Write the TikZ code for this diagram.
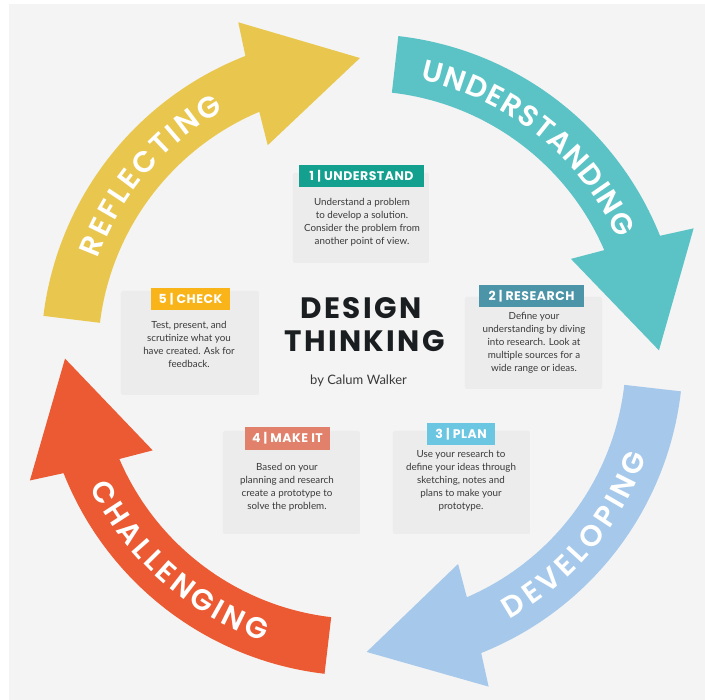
\documentclass[tikz,border=0pt]{standalone}
\usepackage{fontspec}
\usetikzlibrary{decorations.text}
\newfontfamily\headfont{Poppins}
\IfFontExistsTF{Poppins SemiBold}
  {\newfontfamily\arrowfont{Poppins SemiBold}}
  {\newfontfamily\arrowfont{Poppins}[UprightFont=*-Bold]}
\newfontfamily\titlefont{Poppins}[LetterSpace=8]
\newfontfamily\barfont{Poppins}[LetterSpace=4]
\newfontfamily\bodyfont{Lato}
\definecolor{panel}{HTML}{F4F4F4}
\definecolor{cardgray}{HTML}{ECECEC}
\definecolor{yelA}{HTML}{E9C74E}
\definecolor{cyaA}{HTML}{5BC3C5}
\definecolor{bluA}{HTML}{A6C9EB}
\definecolor{redA}{HTML}{EB5A33}
\definecolor{labA}{HTML}{14A08F}
\definecolor{labB}{HTML}{4C94A8}
\definecolor{labC}{HTML}{6BC6E2}
\definecolor{labD}{HTML}{E2816B}
\definecolor{labE}{HTML}{F8B419}
\definecolor{titlec}{HTML}{1A1E20}
\definecolor{bodyc}{HTML}{3A3A3A}
\tikzset{
  arrowtxt/.style={decorate, decoration={text along path, text align={fit to path}, text color=white}},
  card/.style={fill=cardgray, rounded corners=2pt, inner sep=0pt},
  bar/.style={inner sep=0pt, text=white, font=\barfont\bfseries\fontsize{12.5}{14}\selectfont, minimum height=22},
  body/.style={inner sep=0pt, align=center, text=bodyc, font=\bodyfont\fontsize{9.8}{13}\selectfont},
}
\begin{document}
\begin{tikzpicture}[x=1pt,y=1pt]
\useasboundingbox (-362,-345) rectangle (343,355);
\fill[white] (-362,-345) rectangle (343,355);
\fill[panel] (-353,-345) rectangle (343,351);
% ring arrows
\foreach \T/\col in {173/yelA, 83.5/cyaA, -6.5/bluA, -96.7/redA}{
  \fill[\col] (\T:321) arc[start angle=\T, end angle=\T-61.7, radius=321]
    -- ({\T-62.6}:355) -- ({\T-82.6}:297) -- ({\T-58.8}:230) -- ({\T-60.1}:264)
    arc[start angle=\T-60.1, end angle=\T, radius=264] -- cycle;
}
\path[arrowtxt, decoration={text={|\arrowfont\fontsize{29.5}{30}\selectfont|REFLECTING}}]
  (160:281) arc[start angle=160, end angle=119.5, radius=281];
\path[arrowtxt, decoration={text={|\arrowfont\fontsize{29.5}{30}\selectfont|UNDERSTANDING}}]
  (78:281) arc[start angle=78, end angle=24.5, radius=281];
\path[arrowtxt, decoration={text={|\arrowfont\fontsize{29.5}{30}\selectfont|DEVELOPING}}]
  (-60.8:302.5) arc[start angle=-60.8, end angle=-19.5, radius=302.5];
\path[arrowtxt, decoration={text={|\arrowfont\fontsize{29.5}{30}\selectfont|CHALLENGING}}]
  (206:302.5) arc[start angle=206, end angle=251, radius=302.5];
\begin{scope}[shift={(-362,355)}, y=-1pt]
  % cards
  \node[card, minimum width=136, minimum height=90] (c1) at (361,218) {};
  \node[card, minimum width=137, minimum height=92] (c2) at (533.5,343) {};
  \node[card, minimum width=137, minimum height=103] (c3) at (461.5,482.5) {};
  \node[card, minimum width=137, minimum height=103] (c4) at (291.5,482.5) {};
  \node[card, minimum width=138, minimum height=104] (c5) at (190,343) {};
  % label bars
  \node[bar, fill=labA, minimum width=125] (b1) at (361.5,176) {1 | UNDERSTAND};
  \node[bar, fill=labB, minimum width=105] (b2) at (531.5,296) {2 | RESEARCH};
  \node[bar, fill=labC, minimum width=68] (b3) at (461,434) {3 | PLAN};
  \node[bar, fill=labD, minimum width=85, minimum height=23] (b4) at (287.5,438.5) {4 | MAKE IT};
  \node[bar, fill=labE, minimum width=79] (b5) at (190.5,299) {5 | CHECK};
  % body texts
  \node[body] (t1) at (362,222) {Understand a problem\\to develop a solution.\\Consider the problem from\\another point of view.};
  \node[body] (t2) at (534,343) {Define your\\understanding by diving\\into research. Look at\\multiple sources for a\\wide range or ideas.};
  \node[body] (t3) at (461,481) {Use your research to\\define your ideas through\\sketching, notes and\\plans to make your\\prototype.};
  \node[body] (t4) at (287,487.5) {Based on your\\planning and research\\create a prototype to\\solve the problem.};
  \node[body] (t5) at (189,344) {Test, present, and\\scrutinize what you\\have created. Ask for\\feedback.};
  % title
  \node[inner sep=0pt, text=titlec, font=\titlefont\bfseries\fontsize{29.5}{30}\selectfont] (d1) at (361,308) {DESIGN};
  \node[inner sep=0pt, text=titlec, font=\titlefont\bfseries\fontsize{29.5}{30}\selectfont] (d2) at (364.5,341) {THINKING};
  \node[inner sep=0pt, text=bodyc, font=\bodyfont\fontsize{13}{14}\selectfont] (d3) at (358.5,381) {by Calum Walker};
\end{scope}
\end{tikzpicture}
\end{document}
